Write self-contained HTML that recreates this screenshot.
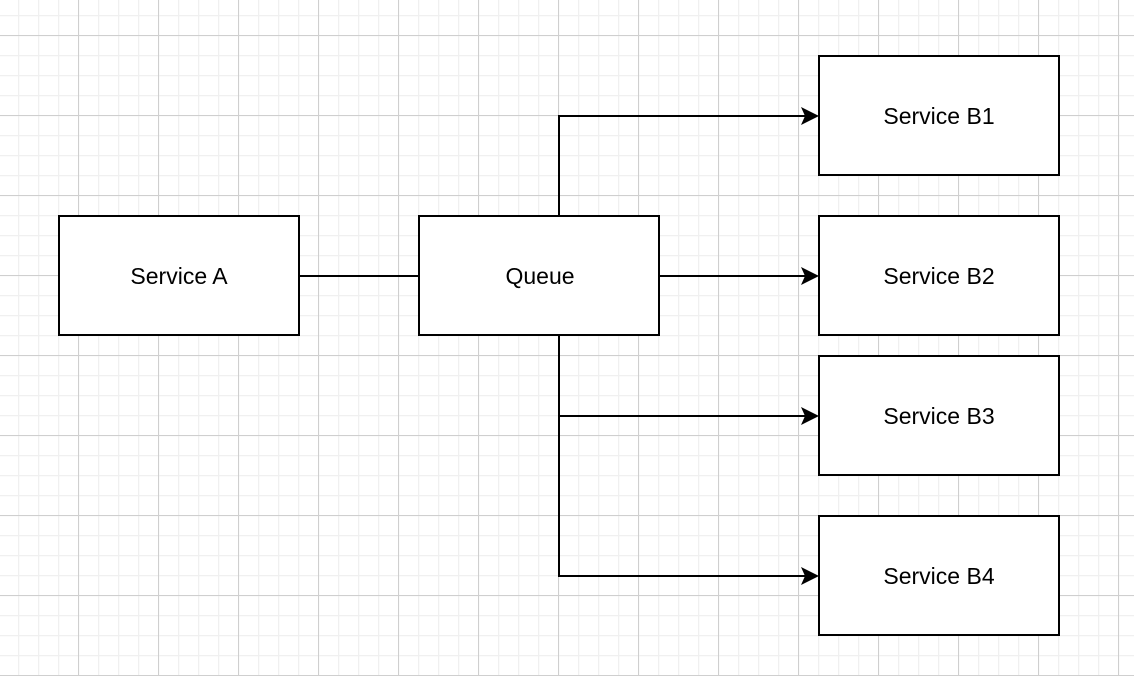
<!DOCTYPE html>
<html><head><style>
html,body{margin:0;padding:0;background:#fff;}
svg{display:block;}
text{font-family:"Liberation Sans",Arial,sans-serif;font-size:23px;fill:#000;}
</style></head><body>
<svg width="1134" height="676" viewBox="0 0 1134 676" xmlns="http://www.w3.org/2000/svg">
<defs>
<pattern id="minor" x="-2" y="15" width="20" height="20" patternUnits="userSpaceOnUse">
<path d="M0.5 0V20M0 0.5H20" stroke="#f0f0f0" stroke-width="1.5" fill="none"/>
</pattern>
<pattern id="major" x="-2" y="35" width="80" height="80" patternUnits="userSpaceOnUse">
<path d="M0.5 0V80M0 0.5H80" stroke="#cfcfcf" stroke-width="1" fill="none"/>
</pattern>
</defs>
<rect width="1134" height="676" fill="url(#minor)"/>
<rect width="1134" height="676" fill="url(#major)"/>
<g stroke="#000" stroke-width="2" fill="none">
<path d="M299 276H419"/>
<path d="M559 216V116H806"/>
<path d="M659 276H806"/>
<path d="M559 336V416H806"/>
<path d="M559 416V576H806"/>
</g>
<g fill="#000">
<path d="M819 116L801 107L805 116L801 125Z"/>
<path d="M819 276L801 267L805 276L801 285Z"/>
<path d="M819 416L801 407L805 416L801 425Z"/>
<path d="M819 576L801 567L805 576L801 585Z"/>
</g>
<g stroke="#000" stroke-width="2" fill="#fff">
<rect x="59" y="216" width="240" height="119"/>
<rect x="419" y="216" width="240" height="119"/>
<rect x="819" y="56" width="240" height="119"/>
<rect x="819" y="216" width="240" height="119"/>
<rect x="819" y="356" width="240" height="119"/>
<rect x="819" y="516" width="240" height="119"/>
</g>
<g text-anchor="middle">
<text x="179" y="284">Service A</text>
<text x="540" y="284">Queue</text>
<text x="939" y="124">Service B1</text>
<text x="939" y="284">Service B2</text>
<text x="939" y="424">Service B3</text>
<text x="939" y="584">Service B4</text>
</g>
</svg>
</body></html>
